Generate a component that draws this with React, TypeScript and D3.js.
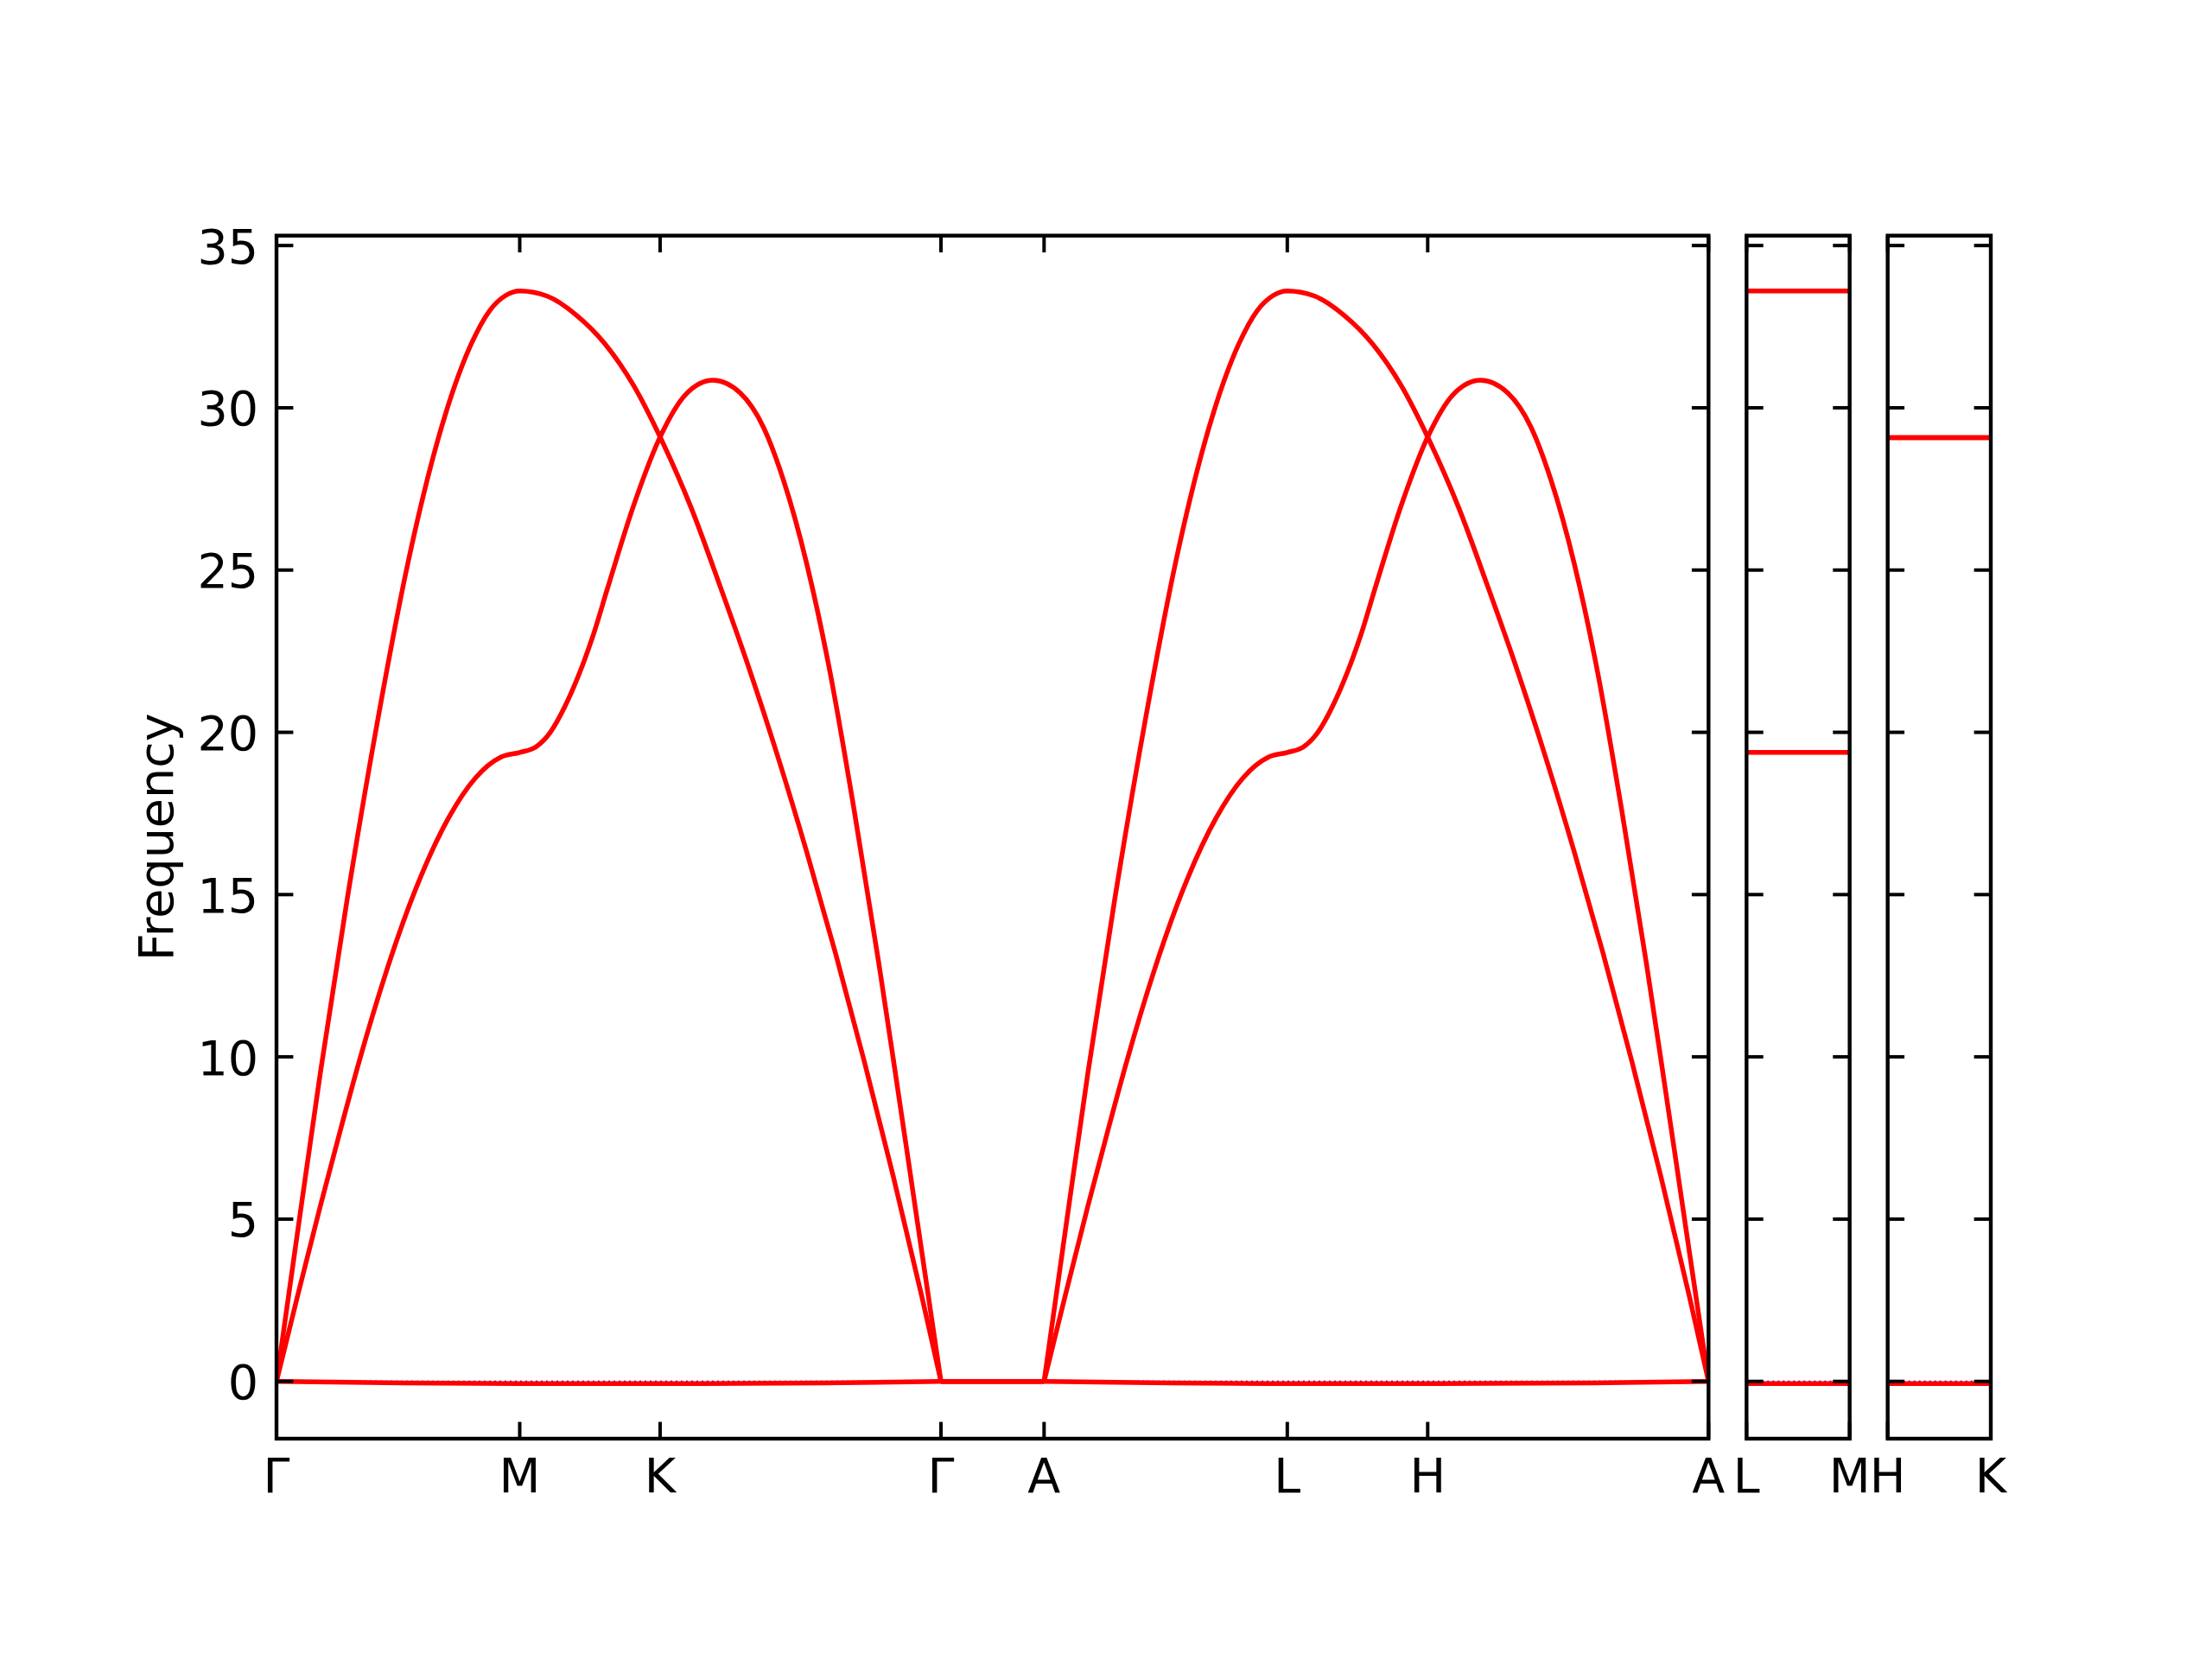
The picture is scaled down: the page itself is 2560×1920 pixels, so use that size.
import React from 'react';
import * as d3 from 'd3';

// ---------------- data ----------------
const yTicks = [0, 5, 10, 15, 20, 25, 30, 35];
const yDomain: [number, number] = [-1.765, 35.305];

// main path Γ-M-K-Γ-A-L-H-A (segment lengths in 2π/a units)
const mainLabels = ['Γ', 'M', 'K', 'Γ', 'A', 'L', 'H', 'A'];
const mainSegLengths = [0.5774, 0.3333, 0.6667, 0.2448, 0.5774, 0.3333, 0.6667];
const lmLabels = ['L', 'M'];
const lmLength = 0.2448;
const hkLabels = ['H', 'K'];
const hkLength = 0.2448;

// in-plane half path Γ-M-K-Γ (repeated identically along A-L-H-A)
const kUpper = [0, 0.0538, 0.104, 0.1677, 0.2413, 0.3117, 0.4022, 0.4617, 0.5063, 0.5438, 0.5774,
  0.6429, 0.7115, 0.7798, 0.8481, 0.9107,
  0.985, 1.0534, 1.1219, 1.1902, 1.2586, 1.3271, 1.3954, 1.4638, 1.5323, 1.5774];
const fUpper = [0, 4.95, 9.5, 14.85, 20.45, 25.2, 29.85, 31.95, 33.0, 33.46, 33.6,
  33.44, 32.86, 31.97, 30.68, 29.1,
  26.9, 24.49, 21.97, 19.25, 16.32, 13.19, 9.86, 6.34, 2.6, 0];

const kLower = [0, 0.0513, 0.104, 0.1539, 0.1978, 0.2565, 0.3253, 0.4084, 0.472, 0.5336, 0.5774,
  0.6156, 0.6499, 0.684, 0.7182, 0.7525, 0.7866, 0.8481, 0.9107,
  0.9713, 1.0363, 1.1014, 1.156, 1.204, 1.2586, 1.3134, 1.3714, 1.4297, 1.4638, 1.4981, 1.5323, 1.5774];
const fLower = [0, 2.7, 5.4, 7.85, 9.93, 12.46, 15.0, 17.36, 18.59, 19.24, 19.38,
  19.55, 20.0, 20.78, 21.79, 23.02, 24.47, 27.0, 29.1,
  30.41, 30.85, 30.45, 29.4, 27.75, 25.2, 21.9, 17.6, 12.9, 9.97, 6.97, 3.96, 0];

const kLowest = [0, 0.3, 0.5774, 0.9107, 1.3, 1.5774];
const fLowest = [0, -0.05, -0.07, -0.07, -0.05, 0];

// Γ-A segment: all bands flat at zero
const fGammaA = [0, 0];

// side panels: flat bands
const lmBands = [33.6, 19.38, -0.07];
const hkBands = [29.08, 29.08, -0.07];

// ---------------- layout ----------------
const W = 2560;
const H = 1920;
const left = 320;
const right = 2304;
const top = 272.7;
const bottom = 1665;
const gap = 44;
const FONT = "'DejaVu Sans', 'DejaVu Sans Book', sans-serif";
const FS = 55.5;
const RED = '#ff0000';

type Pt = [number, number];

export default function App() {
  const mainTotal = d3.sum(mainSegLengths);
  const ppu = (right - left - 2 * gap) / (mainTotal + lmLength + hkLength);
  const y = d3.scaleLinear().domain(yDomain).range([bottom, top]);

  const xMain = d3.scaleLinear().domain([0, mainTotal]).range([left, left + mainTotal * ppu]);
  const lmX0 = left + mainTotal * ppu + gap;
  const xLM = d3.scaleLinear().domain([0, lmLength]).range([lmX0, lmX0 + lmLength * ppu]);
  const hkX0 = lmX0 + lmLength * ppu + gap;
  const xHK = d3.scaleLinear().domain([0, hkLength]).range([hkX0, hkX0 + hkLength * ppu]);

  const mainTickPos: number[] = [0];
  mainSegLengths.forEach((l, i) => mainTickPos.push(mainTickPos[i] + l));

  const halfLen = mainSegLengths[0] + mainSegLengths[1] + mainSegLengths[2];
  const secondOffset = halfLen + mainSegLengths[3];

  const buildBand = (ks: number[], fs: number[]): Pt[][] => {
    const a: Pt[] = ks.map((k, i) => [k, fs[i]]);
    const gA: Pt[] = [[halfLen, fGammaA[0]], [halfLen + mainSegLengths[3], fGammaA[1]]];
    const b: Pt[] = ks.map((k, i) => [k + secondOffset, fs[i]]);
    return [a, gA, b];
  };
  const mainBands = [buildBand(kUpper, fUpper), buildBand(kLower, fLower), buildBand(kLowest, fLowest)];

  const lineMain = d3.line<Pt>().x(d => xMain(d[0])).y(d => y(d[1])).curve(d3.curveMonotoneX);

  const tickLen = 19.4;
  const tickW = 4;
  const spineW = 4.4;

  const renderPanel = (
    key: string,
    xs: d3.ScaleLinear<number, number>,
    xTickPos: number[],
    xTickLabels: string[],
    content: React.ReactNode,
    showYLabels: boolean,
  ) => {
    const [x0, x1] = xs.range();
    return (
      <g key={key}>
        <defs>
          <clipPath id={`clip-${key}`}>
            <rect x={x0} y={top} width={x1 - x0} height={bottom - top} />
          </clipPath>
        </defs>
        <g clipPath={`url(#clip-${key})`}>
          <line x1={x0} x2={x1} y1={y(0)} y2={y(0)} stroke="blue" strokeWidth={2} strokeDasharray="2,4" />
          {content}
        </g>
        {yTicks.map(t => (
          <g key={`yt-${t}`}>
            <line x1={x0} x2={x0 + tickLen} y1={y(t)} y2={y(t)} stroke="black" strokeWidth={tickW} />
            <line x1={x1} x2={x1 - tickLen} y1={y(t)} y2={y(t)} stroke="black" strokeWidth={tickW} />
            {showYLabels && (
              <text x={x0 - 21} y={y(t) + 20.5} textAnchor="end" fontFamily={FONT} fontSize={FS} fill="black">
                {t}
              </text>
            )}
          </g>
        ))}
        {xTickPos.map((p, i) => (
          <g key={`xt-${i}`}>
            <line x1={xs(p)} x2={xs(p)} y1={bottom} y2={bottom - tickLen} stroke="black" strokeWidth={tickW} />
            <line x1={xs(p)} x2={xs(p)} y1={top} y2={top + tickLen} stroke="black" strokeWidth={tickW} />
            <text x={xs(p)} y={1727} textAnchor="middle" fontFamily={FONT} fontSize={FS} fill="black">
              {xTickLabels[i]}
            </text>
          </g>
        ))}
        <rect x={x0} y={top} width={x1 - x0} height={bottom - top} fill="none" stroke="black" strokeWidth={spineW} />
      </g>
    );
  };

  const mainContent = mainBands.map((band, bi) =>
    band.map((seg, si) => (
      <path key={`b${bi}-${si}`} d={lineMain(seg) || ''} fill="none" stroke={RED} strokeWidth={5.5} strokeLinejoin="round" />
    )),
  );

  const flatContent = (xs: d3.ScaleLinear<number, number>, vals: number[], len: number) =>
    vals.map((v, i) => (
      <line key={`f${i}`} x1={xs(0)} x2={xs(len)} y1={y(v)} y2={y(v)} stroke={RED} strokeWidth={5.5} />
    ));

  const yMid = (top + bottom) / 2;

  return (
    <svg width={W} height={H} style={{ position: 'absolute', left: 0, top: 0, background: 'white' }}>
      <rect x={0} y={0} width={W} height={H} fill="white" />
      {renderPanel('main', xMain, mainTickPos, mainLabels, mainContent, true)}
      {renderPanel('lm', xLM, [0, lmLength], lmLabels, flatContent(xLM, lmBands, lmLength), false)}
      {renderPanel('hk', xHK, [0, hkLength], hkLabels, flatContent(xHK, hkBands, hkLength), false)}
      <text
        transform={`translate(200, ${yMid}) rotate(-90)`}
        textAnchor="middle"
        fontFamily={FONT}
        fontSize={FS}
        fill="black"
      >
        Frequency
      </text>
    </svg>
  );
}
